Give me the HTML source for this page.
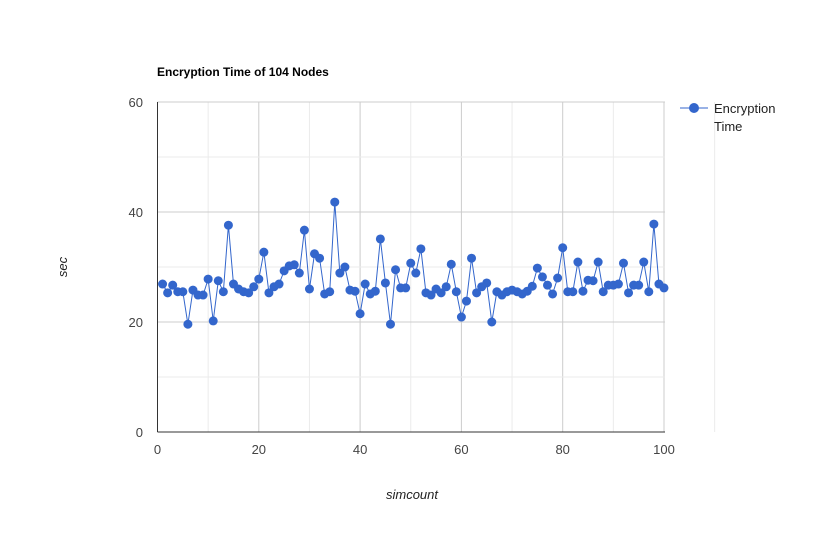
<!DOCTYPE html>
<html><head><meta charset="utf-8"><style>
body{margin:0;background:#fff;font-family:"Liberation Sans",Arial,sans-serif}
svg text{font-family:"Liberation Sans",Arial,sans-serif}
</style></head><body>
<svg id="chart" width="823" height="534" viewBox="0 0 823 534">
<rect width="823" height="534" fill="#fff"/>
<text x="157" y="76" font-size="12" font-weight="bold" fill="#000">Encryption Time of 104 Nodes</text>
<g id="grid"></g>
<g id="axes"></g>
<polyline id="line" fill="none" stroke="#3366cc" stroke-width="1"/>
<g id="points"></g>
<text transform="translate(67,267) rotate(-90)" font-size="13" font-style="italic" fill="#222" text-anchor="middle">sec</text>
<text x="412" y="499" font-size="13" font-style="italic" fill="#222" text-anchor="middle">simcount</text>
<g>
<line x1="680" y1="108" x2="708" y2="108" stroke="#3366cc" stroke-width="1"/>
<circle cx="694" cy="108" r="5" fill="#3366cc"/>
<text x="714" y="113" font-size="13" fill="#222">Encryption</text>
<text x="714" y="131" font-size="13" fill="#222">Time</text>
</g>
</svg>
<script>
const values=[26.9,25.3,26.7,25.5,25.5,19.6,25.8,24.9,24.9,27.8,20.2,27.5,25.5,37.6,26.9,26.0,25.5,25.3,26.4,27.8,32.7,25.3,26.4,26.9,29.3,30.2,30.4,28.9,36.7,26.0,32.4,31.6,25.1,25.5,41.8,28.9,30.0,25.8,25.6,21.5,26.9,25.1,25.6,35.1,27.1,19.6,29.5,26.2,26.2,30.7,28.9,33.3,25.3,24.9,26.0,25.3,26.4,30.5,25.5,20.9,23.8,31.6,25.3,26.4,27.1,20.0,25.5,24.9,25.5,25.8,25.5,25.1,25.6,26.5,29.8,28.2,26.7,25.1,28.0,33.5,25.5,25.5,30.9,25.6,27.6,27.5,30.9,25.5,26.7,26.7,26.9,30.7,25.3,26.7,26.7,30.9,25.5,37.8,26.9,26.2];
const xTicks=[0,20,40,60,80,100];
const yTicks=[0,20,40,60];
const NS="http://www.w3.org/2000/svg";
const X=v=>157.5+v*5.065, Y=v=>432-v*5.5;
const grid=document.getElementById('grid'), axes=document.getElementById('axes'), pts=document.getElementById('points');
function mk(tag,attrs,parent){const e=document.createElementNS(NS,tag);for(const k in attrs)e.setAttribute(k,attrs[k]);parent.appendChild(e);return e;}
for(let v=10;v<=110;v+=10){
  const l=mk('line',{x1:X(v),x2:X(v),y1:Y(60),y2:Y(0),stroke:v%20?'#ebebeb':'#cccccc'},grid);
  
  
}
for(let v=10;v<=60;v+=10){
  const l=mk('line',{x1:X(0),x2:X(100)+1,y1:Y(v),y2:Y(v),stroke:v%20?'#ebebeb':'#cccccc'},grid);
  
  
}
let a=mk('line',{x1:X(0),x2:X(0),y1:Y(60),y2:Y(0),stroke:'#333'},axes);


a=mk('line',{x1:X(0),x2:X(100)+1,y1:Y(0),y2:Y(0),stroke:'#333'},axes);


xTicks.forEach(v=>{const t=mk('text',{x:X(v),y:454,'font-size':13,fill:'#444','text-anchor':'middle'},axes);t.textContent=v;
  
  });
yTicks.forEach(v=>{const t=mk('text',{x:143,y:Y(v)+5,'font-size':13,fill:'#444','text-anchor':'end'},axes);t.textContent=v;
  
  });
document.getElementById('line').setAttribute('points',values.map((v,i)=>X(i+1)+','+Y(v)).join(' '));
values.forEach((v,i)=>{const c=mk('circle',{cx:X(i+1),cy:Y(v),r:4.5,fill:'#3366cc'},pts);
  
  });
</script>
</body></html>
